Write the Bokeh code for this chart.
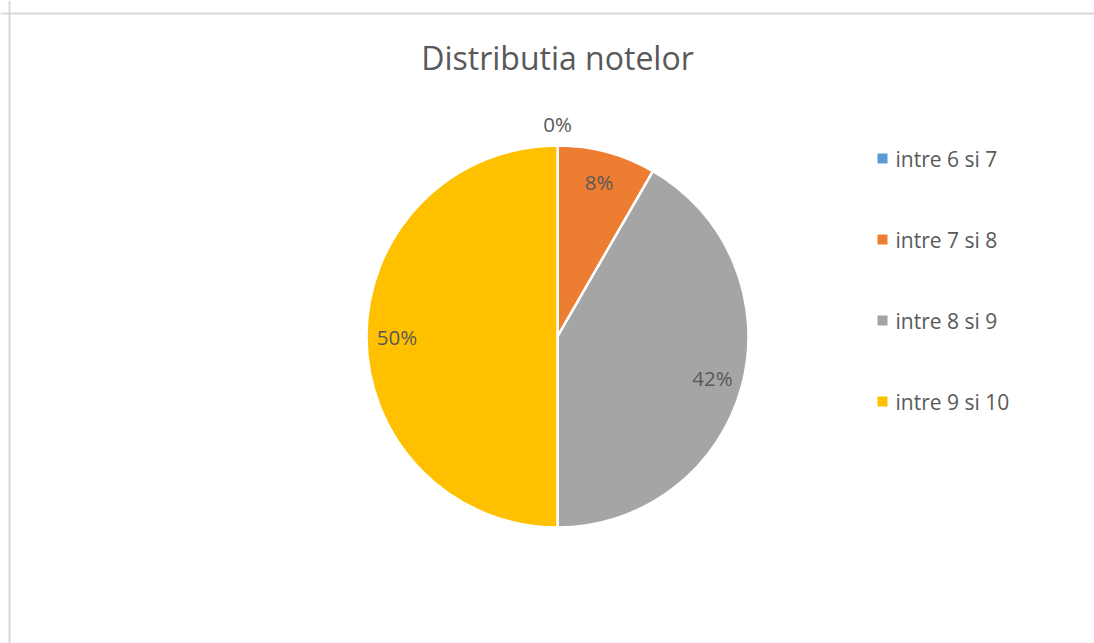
import math
from bokeh.plotting import figure
from bokeh.models import Range1d, ColumnDataSource, Span
from bokeh.core.properties import value
from bokeh.embed import file_html
from bokeh.resources import INLINE

title_text = "Distributia notelor"
categories = ["intre 6 si 7", "intre 7 si 8", "intre 8 si 9", "intre 9 si 10"]
counts = [0, 1, 5, 6]
colors = ["#5B9BD5", "#ED7D31", "#A5A5A5", "#FFC000"]

FONT = "Open Sans"
TXT = "#595959"

# data coordinates == screen pixels (y measured upward from bottom of window)
W, H = 1094, 643
p = figure(width=W, height=H, output_backend="svg", toolbar_location=None,
           x_range=Range1d(0, W), y_range=Range1d(0, H),
           x_axis_location=None, y_axis_location=None,
           min_border_top=0, min_border_left=0, min_border_right=0, min_border_bottom=0)
p.grid.visible = False
p.outline_line_color = None
p.background_fill_color = "white"
p.border_fill_color = "white"

# chart-area border (top and left visible)
p.add_layout(Span(location=H - 13, dimension="width", line_color="#d9d9d9", line_width=2))
p.add_layout(Span(location=9, dimension="height", line_color="#d9d9d9", line_width=2))

cx, cy, R = 557, H - 336, 191
total = sum(counts)
starts, ends, mids, pcts = [], [], [], []
cum = 0
for c in counts:
    s = math.pi / 2 - 2 * math.pi * cum / total
    e = s - 2 * math.pi * c / total
    starts.append(s)
    ends.append(e)
    mids.append((s + e) / 2)
    pcts.append(f"{round(100 * c / total)}%")
    cum += c

src = ColumnDataSource(dict(start=starts, end=ends, color=colors))
p.wedge(x=cx, y=cy, radius=R, start_angle="start", end_angle="end",
        direction="clock", fill_color="color", line_color="white",
        line_width=2.5, source=src)

lx, ly = [], []
for c, m in zip(counts, mids):
    f = 1.115 if c == 0 else 0.84
    lx.append(cx + f * R * math.cos(m))
    ly.append(cy + f * R * math.sin(m))
p.text(x=lx, y=ly, text=pcts, text_font=value(FONT), text_font_size="20.5px",
       text_color=TXT, text_align="center", text_baseline="middle")

# title
p.text(x=[557], y=[H - 57], text=[title_text], text_font=value(FONT),
       text_font_size="32px", text_color=TXT, text_align="center",
       text_baseline="middle")

# legend
gx = 882
gy = [H - (158 + 81 * i) for i in range(len(categories))]
p.scatter(x=[gx] * len(categories), y=gy, marker="square", size=10,
          fill_color=colors, line_color=None)
p.text(x=[gx + 13] * len(categories), y=gy, text=categories, text_font=value(FONT),
       text_font_size="21px", text_color=TXT, text_align="left",
       text_baseline="middle")

open("out.html", "w").write(file_html(p, INLINE))
